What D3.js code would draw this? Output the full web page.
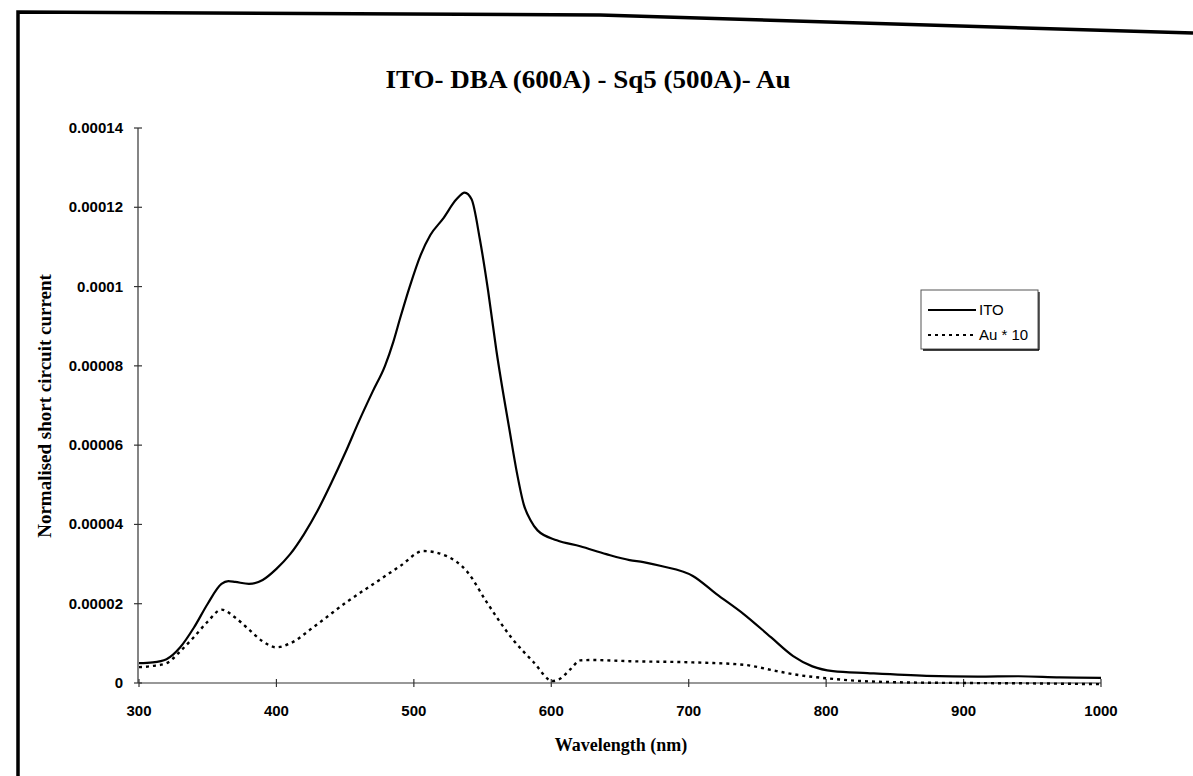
<!DOCTYPE html>
<html><head><meta charset="utf-8">
<script src="https://cdn.jsdelivr.net/npm/d3@7"></script>
<style>body{margin:0;background:#fff}svg{display:block}</style>
</head><body>
<svg id="c" width="1193" height="776"></svg>
<script>
const titleText = "ITO- DBA (600A) - Sq5 (500A)- Au";
const xTitle = "Wavelength (nm)";
const yTitle = "Normalised short circuit current";
const xTicks = [300,400,500,600,700,800,900,1000];
const yTicks = [0,0.00002,0.00004,0.00006,0.00008,0.0001,0.00012,0.00014];
const yTickLabels = ["0","0.00002","0.00004","0.00006","0.00008","0.0001","0.00012","0.00014"];
const seriesNames = ["ITO","Au * 10"];

const itoWl  = [300,310,320,330,340,350,360,365,370,380,390,400,410,420,430,440,450,460,470,479,485,490,497,505,512,521,531,537,542,548,554,560,570,575,580,585,590,604,621,640,657,667,680,703,720,740,760,776,790,805,830,873,910,940,970,1000];
const itoVal = [5.0e-6,5.2e-6,6.0e-6,9.0e-6,1.4e-5,2.0e-5,2.5e-5,2.57e-5,2.55e-5,2.5e-5,2.6e-5,2.88e-5,3.25e-5,3.75e-5,4.35e-5,5.05e-5,5.8e-5,6.6e-5,7.35e-5,8.0e-5,8.6e-5,9.2e-5,1.0e-4,1.08e-4,1.13e-4,1.17e-4,1.22e-4,1.237e-4,1.22e-4,1.12e-4,9.9e-5,8.4e-5,6.3e-5,5.3e-5,4.5e-5,4.1e-5,3.85e-5,3.6e-5,3.45e-5,3.25e-5,3.1e-5,3.05e-5,2.95e-5,2.7e-5,2.25e-5,1.74e-5,1.15e-5,6.8e-6,4.2e-6,3.0e-6,2.5e-6,1.8e-6,1.6e-6,1.7e-6,1.4e-6,1.3e-6];

const auWl  = [300,310,320,330,340,350,360,370,380,390,400,410,427,451,475,490,507,524,539,553,572,587,601,606,614,621,630,657,703,740,764,780,800,825,850,900,950,1000];
const auVal = [4.0e-6,4.3e-6,5.0e-6,8.0e-6,1.16e-5,1.55e-5,1.85e-5,1.65e-5,1.35e-5,1.05e-5,9.0e-6,1.0e-5,1.41e-5,2.04e-5,2.6e-5,2.95e-5,3.33e-5,3.2e-5,2.8e-5,2.04e-5,1.1e-5,5.3e-6,5.0e-7,1.0e-6,3.5e-6,5.7e-6,5.8e-6,5.5e-6,5.2e-6,4.6e-6,3.0e-6,2.0e-6,1.2e-6,5.0e-7,2.0e-7,0,-1.0e-7,-3.0e-7];

const svg = d3.select("#c");
const x = d3.scaleLinear().domain([300,1000]).range([139,1101]);
const y = d3.scaleLinear().domain([0,0.00014]).range([683,128]);

// frame (scanned border)
svg.append("path").attr("d","M18,776 L18,12 L600,15 L1193,33")
  .attr("fill","none").attr("stroke","#000").attr("stroke-width",3.5);

const serif = "'Liberation Serif','Times New Roman',serif";
// title
svg.append("text").attr("x",588).attr("y",88).attr("text-anchor","middle")
  .style("font-family",serif).style("font-weight","bold")
  .style("font-size","25px").attr("textLength",405).attr("lengthAdjust","spacingAndGlyphs").text(titleText);

// axes
const axisColor = "#333";
svg.append("line").attr("x1",x(300)).attr("x2",x(1000)).attr("y1",y(0)).attr("y2",y(0)).attr("stroke",axisColor).attr("stroke-width",1.2);
svg.append("line").attr("x1",x(300)-1).attr("x2",x(300)-1).attr("y1",y(0)).attr("y2",y(0.00014)).attr("stroke",axisColor).attr("stroke-width",1.2);

const tickFont = "'Liberation Sans',Arial,sans-serif";
const xg = svg.append("g");
xTicks.forEach(t=>{
  xg.append("line").attr("x1",x(t)).attr("x2",x(t)).attr("y1",y(0)-4).attr("y2",y(0)+4).attr("stroke",axisColor).attr("stroke-width",1.2);
  xg.append("text").attr("x",x(t)).attr("y",y(0)+33).attr("text-anchor","middle")
    .style("font-family",tickFont).style("font-weight","bold").style("font-size","15px").text(t);
});
const yg = svg.append("g");
yTicks.forEach((t,i)=>{
  yg.append("line").attr("x1",x(300)-5).attr("x2",x(300)+3).attr("y1",y(t)).attr("y2",y(t)).attr("stroke",axisColor).attr("stroke-width",1.2);
  yg.append("text").attr("x",x(300)-16).attr("y",y(t)+5).attr("text-anchor","end")
    .style("font-family",tickFont).style("font-weight","bold").style("font-size","15px").text(yTickLabels[i]);
});

// axis titles
svg.append("text").attr("x",621).attr("y",751).attr("text-anchor","middle")
  .style("font-family",serif).style("font-weight","bold")
  .style("font-size","18px").text(xTitle);
svg.append("text").attr("transform","translate(51,406) rotate(-90)").attr("text-anchor","middle")
  .style("font-family",serif).style("font-weight","bold")
  .style("font-size","19px").text(yTitle);

// series
const line = d3.line().x(d=>x(d[0])).y(d=>y(d[1])).curve(d3.curveMonotoneX);
svg.append("path").datum(itoWl.map((w,i)=>[w,itoVal[i]])).attr("d",line)
  .attr("fill","none").attr("stroke","#000").attr("stroke-width",2.2);
svg.append("path").datum(auWl.map((w,i)=>[w,auVal[i]])).attr("d",line)
  .attr("fill","none").attr("stroke","#000").attr("stroke-width",2.4).attr("stroke-dasharray","3,4");

// legend
const lg = svg.append("g");
lg.append("rect").attr("x",921).attr("y",290).attr("width",117).attr("height",59)
  .attr("fill","#fff").attr("stroke","#555").attr("stroke-width",1);
lg.append("line").attr("x1",923).attr("x2",1039).attr("y1",350).attr("y2",350).attr("stroke","#000").attr("stroke-width",1.5);
lg.append("line").attr("x1",1039).attr("x2",1039).attr("y1",292).attr("y2",350).attr("stroke","#000").attr("stroke-width",1.2);
const rows = [310,335];
seriesNames.forEach((n,i)=>{
  const l = lg.append("line").attr("x1",928).attr("x2",976).attr("y1",rows[i]).attr("y2",rows[i])
    .attr("stroke","#000").attr("stroke-width",2);
  if(i===1) l.attr("stroke-dasharray","3,4");
  lg.append("text").attr("x",979).attr("y",rows[i]+5)
    .style("font-family",tickFont).style("font-size","15px").text(n);
});
</script>
</body></html>
